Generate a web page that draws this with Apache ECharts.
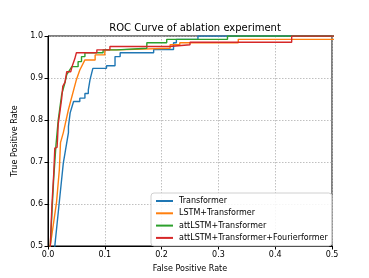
<!DOCTYPE html>
<html><head><meta charset="utf-8">
<script src="https://cdn.jsdelivr.net/npm/echarts@6/dist/echarts.min.js"></script>
<style>html,body{margin:0;padding:0;background:#fff}#c{width:369px;height:278px}</style>
</head><body><div id="c"></div>
<script>
const seriesNames = ['Transformer','LSTM+Transformer','attLSTM+Transformer','attLSTM+Transformer+Fourierformer'];
const colors = ['#1f77b4','#ff7f0e','#2ca02c','#d62728'];
const xTicks = ['0.0','0.1','0.2','0.3','0.4','0.5'];
const yTicks = ['0.5','0.6','0.7','0.8','0.9','1.0'];
// [fpr, tpr]
const transformer = [[0,0],[0.011,0.47],[0.012,0.5],[0.021,0.619],[0.027,0.698],[0.030,0.722],[0.036,0.77],[0.036,0.785],[0.039,0.817],[0.045,0.844],[0.056,0.844],[0.056,0.852],[0.065,0.852],[0.065,0.863],[0.071,0.863],[0.071,0.872],[0.074,0.896],[0.079,0.923],[0.103,0.923],[0.103,0.929],[0.118,0.929],[0.118,0.951],[0.127,0.951],[0.127,0.96],[0.186,0.96],[0.186,0.968],[0.221,0.968],[0.221,0.984],[0.226,0.984],[0.226,0.992],[0.264,0.992],[0.264,1.0],[1,1]];
const lstmTransformer = [[0,0],[0.003,0.47],[0.004,0.5],[0.015,0.604],[0.020,0.682],[0.022,0.746],[0.025,0.746],[0.027,0.77],[0.036,0.825],[0.050,0.896],[0.056,0.919],[0.065,0.943],[0.083,0.943],[0.083,0.955],[0.100,0.955],[0.100,0.967],[0.121,0.967],[0.121,0.971],[0.215,0.971],[0.215,0.979],[0.232,0.979],[0.232,0.984],[0.335,0.984],[0.335,0.992],[0.9,0.992],[0.9,1.0],[1,1]];
const attLstmTransformer = [[0,0],[0.002,0.47],[0.004,0.5],[0.010,0.66],[0.014,0.74],[0.018,0.80],[0.024,0.86],[0.030,0.89],[0.033,0.908],[0.042,0.927],[0.053,0.927],[0.053,0.939],[0.059,0.939],[0.059,0.951],[0.065,0.951],[0.065,0.96],[0.097,0.96],[0.097,0.967],[0.121,0.967],[0.121,0.971],[0.174,0.971],[0.174,0.984],[0.209,0.984],[0.209,0.992],[0.316,0.992],[0.316,1.0],[1,1]];
const fourierformer = [[0,0],[0.002,0.47],[0.004,0.5],[0.007,0.6],[0.010,0.67],[0.012,0.733],[0.016,0.735],[0.017,0.76],[0.018,0.79],[0.021,0.82],[0.024,0.85],[0.026,0.88],[0.030,0.89],[0.033,0.915],[0.040,0.915],[0.043,0.93],[0.047,0.945],[0.050,0.96],[0.086,0.96],[0.086,0.967],[0.109,0.967],[0.109,0.975],[0.214,0.975],[0.214,0.979],[0.25,0.979],[0.25,0.985],[0.429,0.985],[0.429,1.0],[1,1]];
const allData = [transformer, lstmTransformer, attLstmTransformer, fourierformer];

const font = 'DejaVu Sans';
const chart = echarts.init(document.getElementById('c'), null, {renderer:'canvas'});
chart.setOption({
  animation:false,
  backgroundColor:'#fff',
  textStyle:{fontFamily:font},
  title:{text:'ROC Curve of ablation experiment', left:190, top:18, textAlign:'center',
    textStyle:{fontFamily:font, fontSize:10, fontWeight:'normal', color:'#000'}},
  grid:{left:48, right:37, top:36, bottom:31, show:true, borderColor:'#000', borderWidth:1, backgroundColor:'transparent'},
  xAxis:{type:'value', min:0, max:0.5, interval:0.1,
    name:'False Positive Rate', nameLocation:'middle', nameGap:19,
    nameTextStyle:{fontFamily:font, fontSize:8, color:'#000'},
    axisLine:{show:true, onZero:false, lineStyle:{color:'#000', width:1}},
    axisTick:{show:true, length:3.5, lineStyle:{color:'#000'}},
    axisLabel:{fontFamily:font, fontSize:8, color:'#000', margin:5, formatter:(v)=>xTicks[Math.round(v*10)]},
    splitLine:{show:true, lineStyle:{color:'#b0b0b0', type:[1.5,1.5], width:0.8}}},
  yAxis:{type:'value', min:0.5, max:1.0, interval:0.1,
    name:'True Positive Rate', nameLocation:'middle', nameGap:22,
    nameTextStyle:{fontFamily:font, fontSize:8, color:'#000'},
    axisLine:{show:true, onZero:false, lineStyle:{color:'#000', width:1}},
    axisTick:{show:true, length:3.5, lineStyle:{color:'#000'}},
    axisLabel:{fontFamily:font, fontSize:8, color:'#000', margin:5, formatter:(v)=>yTicks[Math.round((v-0.5)*10)]},
    splitLine:{show:true, lineStyle:{color:'#b0b0b0', type:[1.5,1.5], width:0.8}}},
  legend:{orient:'vertical', left:151, top:193, data:seriesNames,
    icon:'rect', itemWidth:17, itemHeight:2, itemGap:4.3,
    padding:[4,4,4,5], borderColor:'#d0d0d0', borderWidth:1, borderRadius:3, backgroundColor:'rgba(255,255,255,0.85)',
    textStyle:{fontFamily:font, fontSize:8, color:'#000', padding:[0,0,0,1]}},
  series: seriesNames.map((n,i)=>({
    name:n, type:'line', data:allData[i], showSymbol:false, clip:true,
    color:colors[i], lineStyle:{color:colors[i], width:1.4}, z:2+i
  }))
});
</script></body></html>
